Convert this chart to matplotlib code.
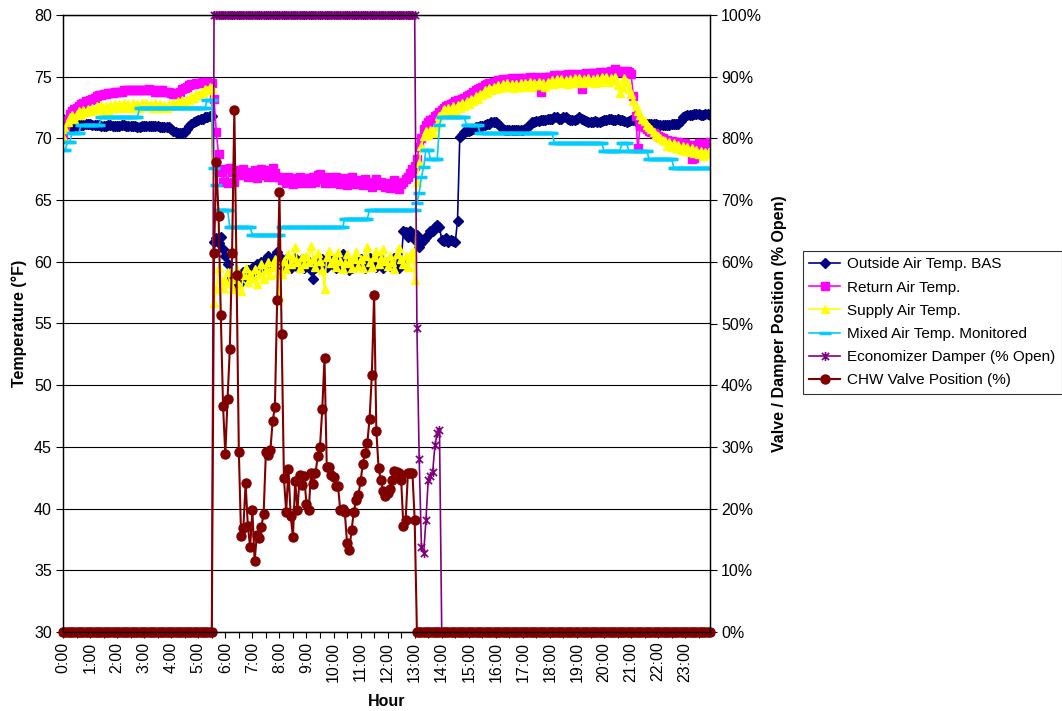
import numpy as np
import matplotlib
matplotlib.use("Agg")
import matplotlib.pyplot as plt
from matplotlib.path import Path
from matplotlib.ticker import FuncFormatter

plt.rcParams['font.family'] = ['Liberation Sans', 'DejaVu Sans']

# 5-minute trend samples across one day (minutes after midnight)
minutes = np.arange(0, 24 * 60, 5)
hour_labels = [f"{h}:00" for h in range(24)]

outside_air = [
    71.6, 71.4, 71.2, 71.0, 70.9, 71.0, 71.0, 71.1, 71.1, 71.1, 71.2, 71.2,
    71.2, 71.1, 71.1, 71.1, 71.1, 71.0, 71.0, 71.0, 71.1, 71.1, 71.0, 71.0,
    71.0, 71.0, 71.1, 71.1, 71.0, 71.0, 71.0, 71.0, 71.0, 70.9, 70.9, 71.0,
    71.0, 71.0, 71.0, 71.0, 71.0, 71.0, 71.0, 70.9, 70.9, 70.9, 70.9, 70.9,
    70.8, 70.6, 70.5, 70.4, 70.4, 70.4, 70.5, 70.8, 71.0, 71.2, 71.3, 71.4,
    71.5, 71.6, 71.6, 71.7, 71.7, 71.8, 71.8, 61.6, 61.9, 61.5, 62.0, 61.0,
    60.5, 59.8, 58.8, 58.3, 58.0, 58.5, 58.2, 58.8, 59.2, 58.8, 59.3, 59.0,
    59.5, 59.2, 59.8, 59.5, 60.0, 59.7, 60.2, 60.5, 60.0, 60.3, 60.5, 60.8,
    60.5, 60.0, 59.5, 60.2, 59.8, 59.5, 60.0, 60.3, 59.6, 59.9, 60.2, 59.5,
    59.8, 60.0, 59.3, 58.6, 59.5, 60.0, 59.7, 60.2, 60.0, 59.6, 59.8, 60.3,
    60.0, 59.5, 59.8, 60.4, 60.6, 60.0, 59.7, 59.3, 59.5, 59.6, 59.8, 60.0,
    60.2, 59.7, 59.5, 60.0, 60.3, 59.8, 60.0, 59.6, 59.9, 60.2, 59.5, 59.8,
    60.0, 59.7, 59.9, 60.3, 59.8, 59.5, 60.0, 62.5, 62.4, 62.0, 62.5, 62.3,
    61.8, 62.2, 61.2, 61.5, 61.8, 62.0, 62.2, 62.5, 62.5, 62.8, 63.0, 62.8,
    61.8, 61.7, 61.9, 61.6, 61.8, 61.7, 61.6, 63.3, 70.1, 70.3, 70.5, 70.6,
    70.6, 70.7, 70.8, 70.9, 70.9, 71.0, 71.0, 71.1, 71.2, 71.2, 71.3, 71.3,
    71.3, 71.2, 71.0, 70.8, 70.7, 70.7, 70.7, 70.7, 70.7, 70.7, 70.7, 70.7,
    70.7, 70.8, 70.9, 71.1, 71.3, 71.3, 71.4, 71.4, 71.5, 71.5, 71.5, 71.6,
    71.6, 71.6, 71.7, 71.7, 71.6, 71.6, 71.7, 71.7, 71.6, 71.5, 71.5, 71.5,
    71.6, 71.7, 71.6, 71.5, 71.4, 71.3, 71.3, 71.3, 71.4, 71.3, 71.3, 71.4,
    71.5, 71.5, 71.6, 71.6, 71.5, 71.5, 71.6, 71.5, 71.5, 71.4, 71.3, 71.4,
    71.5, 71.5, 71.4, 71.3, 71.3, 71.2, 71.2, 71.2, 71.2, 71.2, 71.2, 71.2,
    71.1, 71.1, 71.1, 71.1, 71.1, 71.1, 71.2, 71.2, 71.2, 71.2, 71.4, 71.7,
    71.8, 71.9, 71.9, 71.9, 72.0, 72.0, 72.0, 71.9, 71.9, 72.0, 72.0, 71.9,
]

return_air = [
    70.2, 70.8, 71.5, 72.0, 72.2, 72.4, 72.5, 72.6, 72.8, 72.9, 73.0, 73.0,
    73.1, 73.2, 73.3, 73.4, 73.5, 73.5, 73.6, 73.6, 73.7, 73.7, 73.7, 73.8,
    73.8, 73.8, 73.8, 73.9, 73.9, 73.9, 73.9, 73.9, 73.9, 73.9, 73.9, 73.9,
    73.9, 73.9, 74.0, 73.9, 73.9, 73.8, 73.8, 73.9, 73.9, 73.8, 73.8, 73.8,
    73.7, 73.6, 73.6, 73.7, 73.8, 74.0, 74.1, 74.2, 74.3, 74.4, 74.4, 74.5,
    74.5, 74.5, 74.6, 74.6, 74.6, 74.5, 74.5, 73.2, 70.5, 68.7, 67.3, 66.5,
    67.5, 66.4, 67.6, 67.3, 66.5, 67.4, 67.2, 67.0, 67.5, 67.3, 66.9, 67.1,
    67.0, 67.4, 66.8, 67.0, 67.5, 67.1, 67.3, 66.9, 67.4, 67.6, 67.2, 66.9,
    66.9, 66.6, 66.8, 66.4, 66.9, 66.7, 66.3, 66.8, 66.5, 66.9, 66.4, 66.8,
    66.6, 66.8, 66.4, 66.9, 66.5, 67.0, 67.1, 66.7, 66.4, 66.6, 66.9, 66.4,
    66.7, 66.9, 66.5, 66.3, 66.8, 66.4, 66.2, 66.6, 66.9, 66.4, 66.3, 66.6,
    66.5, 66.2, 66.7, 66.3, 66.5, 66.1, 66.4, 66.7, 66.2, 66.5, 66.3, 66.1,
    66.4, 66.0, 66.3, 66.6, 66.1, 65.9, 66.3, 66.5, 66.7, 66.9, 67.2, 67.5,
    67.8, 68.3, 69.3, 70.0, 70.8, 71.1, 71.3, 71.5, 71.6, 71.8, 71.9, 72.1,
    72.3, 72.5, 72.6, 72.7, 72.8, 72.9, 73.0, 73.1, 73.1, 73.2, 73.3, 73.4,
    73.5, 73.6, 73.8, 73.9, 74.0, 74.1, 74.2, 74.3, 74.4, 74.5, 74.5, 74.6,
    74.6, 74.7, 74.7, 74.8, 74.7, 74.8, 74.8, 74.9, 74.8, 74.8, 74.9, 74.9,
    74.8, 74.9, 74.9, 75.0, 74.9, 74.9, 75.0, 74.9, 73.8, 74.9, 75.0, 75.0,
    75.0, 75.0, 75.1, 75.0, 75.1, 75.1, 75.0, 75.1, 75.2, 75.1, 75.2, 75.1,
    75.2, 75.1, 74.0, 75.2, 75.3, 75.2, 75.3, 75.2, 75.3, 75.3, 75.4, 75.3,
    75.4, 75.3, 75.4, 75.5, 75.4, 75.6, 75.5, 75.4, 75.5, 75.4, 75.5, 75.4,
    75.2, 73.4, 71.8, 69.2, 71.0, 71.1, 70.9, 70.8, 70.6, 70.5, 70.4, 70.3,
    70.2, 70.1, 70.0, 69.9, 69.9, 69.8, 69.8, 69.7, 69.7, 69.7, 69.6, 69.6,
    69.6, 69.5, 69.5, 68.3, 68.4, 69.5, 69.6, 69.4, 69.5, 69.6, 69.6, 69.7,
]

supply_air = [
    70.1, 70.8, 71.3, 71.7, 71.9, 71.6, 72.0, 72.2, 71.9, 72.3, 72.1, 72.4,
    72.2, 72.5, 72.3, 72.6, 72.3, 72.7, 72.4, 72.6, 72.3, 72.7, 72.5, 72.8,
    72.5, 72.8, 72.5, 72.9, 72.6, 72.8, 72.5, 72.9, 72.6, 72.8, 72.5, 72.9,
    72.6, 72.9, 72.6, 72.8, 72.5, 72.9, 72.6, 72.8, 72.5, 72.7, 72.5, 72.8,
    72.6, 72.9, 72.7, 73.0, 72.8, 73.1, 72.9, 73.2, 73.1, 73.4, 73.3, 73.6,
    73.5, 73.8, 73.7, 74.0, 73.9, 74.2, 74.1, 56.7, 57.8, 59.5, 58.6, 57.9,
    58.5, 59.2, 58.3, 57.8, 58.6, 59.3, 58.1, 57.6, 58.9, 59.5, 58.4, 59.0,
    58.7, 59.4, 58.2, 59.0, 59.8, 58.6, 59.3, 60.0, 58.9, 59.6, 60.2, 59.1,
    57.2, 59.0, 60.1, 59.4, 60.6, 59.8, 60.3, 61.2, 60.0, 59.5, 60.4, 59.8,
    60.5, 60.0, 61.3, 60.2, 59.6, 60.7, 60.1, 59.3, 57.8, 60.4, 60.9, 59.9,
    60.3, 59.6, 60.8, 60.1, 59.4, 59.9, 60.6, 60.0, 59.5, 60.2, 60.8, 59.7,
    60.2, 59.5, 60.5, 61.2, 60.0, 59.6, 60.4, 60.9, 59.8, 60.3, 61.0, 60.1,
    59.7, 60.5, 60.0, 59.4, 60.6, 61.1, 60.2, 59.8, 60.5, 59.6, 60.3, 60.8,
    58.5, 66.5, 68.0, 69.4, 70.2, 70.6, 70.3, 70.7, 70.4, 70.9, 71.2, 71.8,
    72.0, 72.4, 72.1, 72.5, 72.2, 72.6, 72.3, 72.7, 72.5, 72.9, 72.6, 73.0,
    72.8, 73.2, 73.0, 73.4, 73.2, 73.6, 73.5, 73.9, 73.7, 74.1, 73.9, 74.2,
    74.0, 74.3, 74.1, 74.4, 74.2, 74.5, 74.2, 74.4, 74.1, 74.4, 74.2, 74.5,
    74.2, 74.5, 74.3, 74.6, 74.2, 74.5, 74.3, 74.6, 74.3, 74.5, 74.2, 74.6,
    74.4, 74.7, 74.4, 74.8, 74.5, 74.8, 74.5, 74.7, 74.4, 74.8, 74.5, 74.9,
    74.6, 74.9, 74.5, 74.8, 74.6, 74.9, 74.6, 74.8, 74.5, 74.9, 74.6, 75.0,
    74.7, 75.0, 74.6, 74.9, 74.7, 75.0, 74.3, 73.7, 74.2, 74.9, 74.6, 74.0,
    73.6, 73.0, 72.6, 72.2, 71.9, 71.6, 71.4, 71.1, 70.9, 70.8, 70.5, 70.3,
    70.2, 70.0, 69.9, 69.8, 69.4, 69.7, 69.3, 69.6, 69.2, 69.5, 69.1, 69.4,
    69.0, 69.3, 68.9, 69.2, 68.8, 69.1, 68.7, 69.0, 68.6, 68.9, 68.7, 69.0,
]

mixed_air = [
    69.1, 69.1, 69.7, 69.7, 70.4, 70.4, 70.4, 70.4, 71.1, 71.1, 71.1, 71.1,
    71.1, 71.1, 71.1, 71.1, 71.1, 71.7, 71.7, 71.7, 71.7, 71.7, 71.7, 71.7,
    71.7, 71.7, 71.7, 71.7, 71.7, 71.7, 71.7, 71.7, 71.7, 71.7, 72.5, 72.5,
    72.5, 72.5, 72.5, 72.5, 72.5, 72.5, 72.5, 72.5, 72.5, 72.5, 72.5, 72.5,
    72.5, 72.5, 72.5, 72.5, 72.5, 72.5, 72.5, 72.5, 72.5, 72.5, 72.5, 72.5,
    72.5, 72.5, 72.5, 72.5, 73.1, 73.1, 73.1, 67.6, 66.2, 64.2, 64.2, 64.2,
    64.2, 64.2, 62.8, 62.8, 62.8, 62.8, 62.8, 62.8, 62.8, 62.8, 62.8, 62.8,
    62.2, 62.2, 62.2, 62.2, 62.2, 62.2, 62.2, 62.2, 62.2, 62.2, 62.2, 62.2,
    62.2, 62.8, 62.8, 62.8, 62.8, 62.8, 62.8, 62.8, 62.8, 62.8, 62.8, 62.8,
    62.8, 62.8, 62.8, 62.8, 62.8, 62.8, 62.8, 62.8, 62.8, 62.8, 62.8, 62.8,
    62.8, 62.8, 62.8, 62.8, 62.8, 63.5, 63.5, 63.5, 63.5, 63.5, 63.5, 63.5,
    63.5, 63.5, 63.5, 63.5, 64.2, 64.2, 64.2, 64.2, 64.2, 64.2, 64.2, 64.2,
    64.2, 64.2, 64.2, 64.2, 64.2, 64.2, 64.2, 64.2, 64.2, 64.2, 64.2, 64.2,
    64.2, 64.8, 65.6, 66.9, 67.7, 69.1, 69.1, 68.3, 68.3, 68.3, 68.3, 71.1,
    71.7, 71.7, 71.7, 71.7, 71.7, 71.7, 71.7, 71.7, 71.7, 71.7, 71.7, 71.1,
    71.1, 71.1, 71.1, 71.1, 71.1, 70.4, 70.4, 70.4, 70.4, 70.4, 70.4, 70.4,
    70.4, 70.4, 70.4, 70.4, 70.4, 70.4, 70.4, 70.4, 70.4, 70.4, 70.4, 70.4,
    70.4, 70.4, 70.4, 70.4, 70.4, 70.4, 70.4, 70.4, 70.4, 70.4, 70.4, 70.4,
    70.4, 70.4, 69.6, 69.6, 69.6, 69.6, 69.6, 69.6, 69.6, 69.6, 69.6, 69.6,
    69.6, 69.6, 69.6, 69.6, 69.6, 69.6, 69.6, 69.6, 69.6, 69.6, 69.6, 69.6,
    69.0, 69.0, 69.0, 69.0, 69.0, 69.0, 69.0, 69.0, 69.6, 69.6, 69.6, 69.0,
    69.0, 69.0, 69.0, 69.0, 69.0, 69.0, 69.0, 69.0, 68.3, 68.3, 68.3, 68.3,
    68.3, 68.3, 68.3, 68.3, 68.3, 68.3, 68.3, 67.6, 67.6, 67.6, 67.6, 67.6,
    67.6, 67.6, 67.6, 67.6, 67.6, 67.6, 67.6, 67.6, 67.6, 67.6, 67.6, 67.6,
]

# Chilled-water valve command while the unit is occupied (5:35 - 13:00)
chw_occupied = [
    61.5, 76.1, 67.5, 51.3, 36.6, 28.8, 37.8, 45.9, 61.5, 84.6,
    57.8, 29.2, 15.6, 16.8, 24.1, 17.2, 13.8, 19.7, 11.5, 15.7,
    15.2, 17.0, 19.2, 29.2, 28.7, 29.5, 34.2, 36.5, 53.8, 71.3,
    48.3, 24.9, 19.5, 26.4, 18.8, 15.4, 24.4, 19.7, 25.4, 23.8,
    25.3, 20.7, 19.7, 25.7, 24.0, 25.7, 28.5, 30.0, 36.1, 44.4,
    26.7, 26.7, 25.4, 25.1, 23.6, 23.6, 19.7, 20.0, 19.4, 14.5,
    13.3, 16.5, 19.5, 21.4, 22.2, 24.4, 27.3, 29.0, 30.7, 34.6,
    41.7, 54.7, 32.6, 26.5, 24.6, 22.9, 22.0, 22.5, 23.1, 24.6,
    26.1, 26.0, 25.8, 24.6, 17.1, 18.2, 25.8, 25.8, 25.8, 18.2,
]
chw_valve = [0.0] * 67 + chw_occupied + [0.0] * 131

# Economizer damper: closed overnight, fully open 5:35 - 13:00, modulating to 13:55
damper_modulating = [49.3, 28.0, 13.8, 12.8, 18.2, 24.6, 25.3, 26.0, 30.3, 32.3, 32.8]
damper = [0.0] * 67 + [100.0] * 90 + damper_modulating + [0.0] * 120

for series in (outside_air, return_air, supply_air, mixed_air, chw_valve, damper):
    assert len(series) == len(minutes)

# Asterisk-style marker: an X crossed by a vertical stroke
star = Path([(-1, -1), (1, 1), (-1, 1), (1, -1), (0, -1.25), (0, 1.25)],
            [Path.MOVETO, Path.LINETO, Path.MOVETO, Path.LINETO, Path.MOVETO, Path.LINETO])

W, H = 1062, 711
fig = plt.figure(figsize=(W / 100, H / 100), dpi=100)
left, right, top, bottom = 63, 710, 15, 632
ax = fig.add_axes([left / W, 1 - bottom / H, (right - left) / W, (bottom - top) / H])
ax2 = ax.twinx()

FS = 11.5

styles = dict(lw=1.2)
ax.plot(minutes, outside_air, color='#000080', marker='D', ms=4.8, mec='#000080',
        label='Outside Air Temp. BAS', **styles)
ax.plot(minutes, return_air, color='#FF00FF', marker='s', ms=5.4, mec='#FF00FF',
        label='Return Air Temp.', **styles)
ax.plot(minutes, supply_air, color='#FFFF00', marker='^', ms=6.2, mec='#FFFF00',
        label='Supply Air Temp.', **styles)
ax.plot(minutes, mixed_air, color='#00CCFF', marker='_', ms=8, mew=2.5,
        label='Mixed Air Temp. Monitored', **styles)
ax2.plot(minutes, damper, color='#800080', marker=star, ms=6.5, mew=1.2, mfc='none',
         label='Economizer Damper (% Open)', clip_on=False, **styles)
ax2.plot(minutes, chw_valve, color='#800000', marker='o', ms=6.5, mec='#800000',
         label='CHW Valve Position (%)', clip_on=False, lw=1.5)

ax.set_xlim(0, 1435)
ax.set_ylim(30, 80)
ax2.set_ylim(0, 100)

ax.set_xticks(np.arange(0, 24 * 60, 60))
ax.set_xticklabels(hour_labels, rotation=90, fontsize=FS)
ax.set_xticks(np.arange(30, 24 * 60, 60), minor=True)
ax.tick_params(axis='x', which='both', direction='out', length=4, width=0.8, pad=3)

ax.set_yticks(np.arange(30, 81, 5))
ax.tick_params(axis='y', direction='out', length=5, width=0.8, labelsize=FS, pad=3)
ax2.set_yticks(np.arange(0, 101, 10))
ax2.yaxis.set_major_formatter(FuncFormatter(lambda v, p: f"{v:.0f}%"))
ax2.tick_params(axis='y', direction='out', length=5, width=0.8, labelsize=FS, pad=3)

ax.grid(axis='y', color='black', lw=0.8)
ax.set_axisbelow(True)
for a in (ax, ax2):
    for s in a.spines.values():
        s.set_color('black')
        s.set_linewidth(0.9)

ax.set_xlabel('Hour', fontsize=FS, fontweight='bold', labelpad=9)
ax.set_ylabel('Temperature (°F)', fontsize=FS, fontweight='bold', labelpad=5)
ax2.set_ylabel('Valve / Damper Position (% Open)', fontsize=FS, fontweight='bold', labelpad=7)

handles = ax.get_lines() + ax2.get_lines()
labels = [h.get_label() for h in handles]
leg = fig.legend(handles, labels, loc='upper left', bbox_to_anchor=(803 / W, 1 - 251 / H),
                 frameon=True, fancybox=False, edgecolor='black', fontsize=11,
                 handlelength=2.0, handletextpad=0.45, borderpad=0.42, labelspacing=0.6,
                 borderaxespad=0)
leg.get_frame().set_linewidth(0.8)

fig.savefig('out.png', dpi=100)
